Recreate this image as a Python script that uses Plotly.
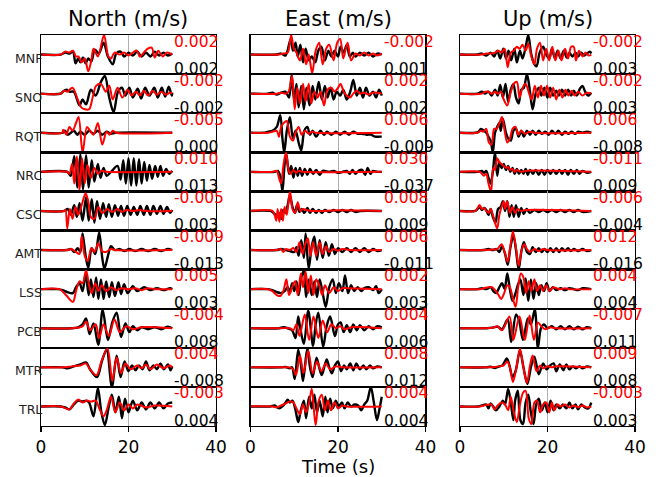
import plotly.graph_objects as go
from plotly.subplots import make_subplots

STATIONS = ["MNF", "SNO", "RQT", "NRC", "CSC", "AMT", "LSS", "PCB", "MTR", "TRL"]
COMPONENTS = ["North (m/s)", "East (m/s)", "Up (m/s)"]
X_TICKS = [0, 20, 40]

# ---- waveform keypoints (time s, normalised amplitude) ----
NORTH_OBS = {
    "MNF": [(0,0),(4.5,0),(5.5,0.1),(6.5,0.05),(7.3,0.15),(7.9,-0.45),(8.5,-0.2),(9,-0.4),(9.6,-0.15),(10.2,-0.45),(10.8,-0.2),(11.5,-0.35),(12.3,0.25),(13.2,0.05),(14.3,0.6),(15.3,-0.1),(16.4,-0.5),(17.2,0.05),(18.2,0.15),(19,-0.1),(20,0.1),(21,-0.05),(22,0.15),(23,-0.1),(24,0.1),(25,-0.1),(26,0.15),(27,-0.05),(28,0.1),(29,-0.05),(30,0.05)],
    "SNO": [(0,0),(4.5,0),(5,0.1),(5.8,0.2),(6.5,0.1),(7.5,0.1),(8.8,-0.6),(9.5,-0.3),(10.3,-0.55),(11.4,0.2),(12.5,-0.1),(13.7,0.6),(14.6,0.9),(15.6,-0.2),(16.6,-0.95),(17.6,0.1),(18.5,0.3),(19.3,-0.1),(20.2,0.3),(21,-0.2),(22.1,0.25),(22.9,-0.25),(23.8,0.3),(24.8,-0.1),(25.9,0.3),(26.7,-0.2),(27.6,0.3),(28.4,-0.15),(29.2,0.35),(29.9,-0.1),(30,0.05)],
    "RQT": [(0,0),(5,0),(5.5,0.1),(6.1,-0.1),(7.5,0.1),(8.3,-0.1),(9,0.05),(10,-0.1),(11,0.1),(12,-0.05),(13,0.1),(14,-0.1),(15,0.05),(16,-0.05),(17,0),(30,0)],
    "NRC": [(0,0),(6,0),(6.8,-0.2),(7.6,0.8),(8.3,-0.8),(9,0.9),(9.6,-0.9),(10.3,0.85),(10.9,-0.8),(11.6,0.6),(12.2,-0.5),(13,0.4),(13.6,-0.3),(14.3,0.2),(15,-0.2),(16,0),(17.5,0.3),(18.2,-0.4),(18.8,0.6),(19.4,-0.6),(20,0.7),(20.6,-0.7),(21.2,0.7),(21.8,-0.7),(22.4,0.65),(23,-0.6),(23.6,0.5),(24.2,-0.45),(24.8,0.35),(25.4,-0.35),(26.1,0.3),(26.7,-0.25),(27.3,0.3),(27.9,-0.2),(28.6,0.15),(29.3,-0.1),(30,0.05)],
    "CSC": [(0,0),(5.3,0),(6.1,0.1),(6.8,-0.2),(7.6,0.3),(8.2,-0.3),(8.8,0.4),(9.5,-0.5),(10.3,0.7),(10.9,-0.5),(11.6,0.6),(12.2,-0.6),(12.8,0.5),(13.5,-0.4),(14.2,0.4),(14.9,-0.3),(15.5,0.35),(16.2,-0.3),(16.9,0.3),(17.6,-0.25),(18.3,0.25),(19,-0.25),(19.7,0.25),(20.5,-0.2),(21.2,0.2),(22,-0.2),(22.7,0.25),(23.5,-0.2),(24.2,0.25),(25,-0.2),(25.7,0.25),(26.5,-0.15),(27.3,0.25),(28,-0.15),(28.8,0.2),(29.5,-0.1),(30,0.05)],
    "AMT": [(0,0),(6,0),(6.9,0.05),(7.6,-0.1),(8.4,0.1),(9,-0.1),(9.5,0.85),(10.2,-0.3),(10.8,-0.9),(11.6,0.1),(12.4,-0.2),(13.3,0.9),(14,-0.4),(14.5,-0.95),(15.3,-0.3),(16,0.2),(16.9,0),(18,0.05),(19,-0.05),(20.2,0.05),(21.5,-0.05),(23,0.05),(24.5,-0.05),(26,0.05),(27.5,-0.05),(29,0.05),(30,0)],
    "LSS": [(0,0),(3.8,0),(5,-0.05),(6,-0.15),(7.3,-0.2),(8,0.1),(8.8,0.3),(9.5,-0.1),(10.2,0.8),(10.9,-0.3),(11.4,0.5),(12,-0.4),(12.6,0.6),(13.1,-0.5),(13.7,0.5),(14.3,-0.5),(14.9,0.4),(15.6,-0.4),(16.2,0.35),(16.9,-0.35),(17.7,0.35),(18.3,-0.25),(19,0.25),(19.8,-0.2),(21,0.15),(22,-0.1),(23.6,0.1),(25,-0.05),(26.5,0.05),(28,-0.05),(29.5,0.05),(30,0)],
    "PCB": [(0,0),(7,0),(8.5,0.05),(9.5,0.2),(10.3,0.5),(11.1,-0.3),(12,0.25),(13.1,-0.85),(14.1,0.95),(15.3,-0.6),(16.3,0.3),(17.3,0.8),(18.3,-0.45),(19.3,0.25),(20.2,-0.2),(21,0.1),(22,-0.1),(23,0.05),(24.5,-0.05),(26,0.05),(27.5,-0.05),(29,0.08),(30,0)],
    "MTR": [(0,0),(5,0),(6,-0.05),(7.5,0.05),(9,0.15),(10.3,0.25),(11.2,-0.1),(12.8,-0.5),(13.9,0.3),(15,0.9),(16.2,-1.0),(17.3,0.6),(18.2,-0.5),(19.1,0.3),(20,-0.2),(20.8,0.1),(21.6,-0.15),(22.4,0.1),(23.2,-0.1),(24,0.3),(24.8,-0.15),(25.7,0.1),(26.5,-0.1),(27.3,0.2),(28.1,-0.1),(29,0.15),(29.6,-0.15),(30,0.05)],
    "TRL": [(0,0),(4.5,0),(5.5,-0.05),(6.5,-0.15),(7.5,0.1),(8.5,0.3),(9.5,0.25),(10.3,0.3),(11,0.2),(12,-0.5),(13,0.95),(13.8,-0.3),(14.6,-0.95),(15.5,0.0),(16.2,0.6),(17,-0.3),(17.8,0.5),(18.5,-0.6),(19.2,0.4),(20,-0.3),(21,0.3),(22,-0.2),(23,0.2),(24,-0.15),(25,0.2),(26,-0.1),(27,0.2),(28,-0.1),(29,0.15),(30,0.2)],
}
NORTH_SYN = {
    "MNF": [(0,0),(4.5,0),(5.5,0.15),(6.5,0.1),(7.3,0.2),(8,-0.1),(8.6,-0.1),(9.3,-0.4),(10,-0.2),(10.8,-0.85),(11.5,-0.3),(12,0.3),(13,-0.1),(14.4,1.0),(15.4,-0.1),(16,-0.2),(16.8,0.1),(18,0),(19,0.1),(20,-0.05),(21,0.1),(21.9,0.2),(22.6,-0.1),(23.5,0.1),(24.4,0.3),(25.3,0.35),(26,-0.15),(26.8,0.2),(27.8,-0.1),(28.8,0.1),(30,0)],
    "SNO": [(0,0),(4.5,0),(5.3,0.15),(6,0.1),(7.2,0.3),(8.4,-0.3),(9.2,-0.7),(10,-0.8),(11,-0.8),(11.8,-0.2),(12.6,0.4),(13.7,0.5),(14.8,0.1),(15.6,0.4),(16.4,-0.3),(17.5,0.3),(18.6,-0.2),(19.8,0.2),(20.7,-0.1),(21.7,0.1),(22.6,-0.1),(23.5,0.15),(24.5,-0.1),(25.5,0.15),(26.5,-0.05),(27.5,0.1),(28.5,-0.05),(29.5,0.05),(30,0)],
    "RQT": [(0,0),(4.8,0),(5.1,0.15),(5.8,-0.1),(6.5,0.3),(7.2,0.1),(8,0.5),(8.6,0.8),(9.5,-1.0),(10.5,0.3),(11.2,0.1),(12,-0.1),(13,0.5),(14,-0.6),(15,0.05),(15.7,-0.1),(16.4,0.1),(17.2,0),(30,0)],
    "NRC": [(0,0),(6,0),(6.5,-0.1),(7.1,0.4),(7.6,-0.6),(8.2,0.8),(8.8,-0.95),(9.4,0.7),(10,-0.6),(10.6,0.35),(11.4,-0.3),(12.2,0.2),(13,-0.1),(13.7,0.05),(15,0),(30,0)],
    "CSC": [(0,0),(5.3,0),(5.6,0.05),(6,-0.9),(6.6,0.1),(7.2,-0.4),(7.9,0.2),(8.5,-0.2),(9.3,0.3),(10.2,0.9),(10.8,0.5),(11.4,-0.3),(12.2,-0.4),(13.1,0.2),(14,-0.1),(15.2,0.1),(16.3,-0.05),(17.5,0.1),(18.5,-0.05),(19.5,0.05),(21,0),(22.5,0.05),(24,0),(30,0)],
    "AMT": [(0,0),(6,0),(6.9,0.05),(8,-0.1),(8.8,-0.2),(9.3,0.7),(10,-0.3),(10.7,-0.55),(11.5,0.1),(12.2,-0.1),(13.1,0.35),(13.9,-0.05),(14.8,-0.1),(16,0.05),(17,0),(30,0)],
    "LSS": [(0,0),(4.2,0),(5.7,-0.3),(7.3,-0.65),(8,-0.1),(8.8,0.4),(9.5,0.3),(10.3,0.95),(11,0.2),(11.6,-0.2),(12.4,0.3),(13.1,-0.1),(13.9,0.2),(14.9,-0.1),(16,0.1),(17.2,-0.05),(18.5,0.05),(20,0),(21.5,0.05),(23,-0.05),(24.5,0.05),(26,0),(30,0)],
    "PCB": [(0,0),(7,0),(9.5,0.1),(10.3,0.35),(11.2,-0.1),(12.5,0.2),(13.3,-0.5),(14.3,0.2),(15.5,-0.4),(16.8,0.45),(18,-0.2),(19.5,0.1),(21,-0.05),(23,0.05),(30,0)],
    "MTR": [(0,0),(5,0),(7,0.05),(9,0.1),(10.3,0.2),(11.2,-0.1),(12.7,-0.4),(13.8,0.3),(15.2,0.95),(16.3,-0.7),(17.3,0.5),(18.3,-0.3),(19.3,0.2),(20.5,-0.1),(22,0.1),(23,-0.05),(24,0.15),(25,-0.1),(26.5,0.15),(28,-0.05),(29.5,0.1),(30,0)],
    "TRL": [(0,0),(4.5,0),(6.5,-0.15),(7.5,0.15),(8.5,0.35),(9.5,0.2),(10.5,0.3),(11.5,0.25),(12.5,0.3),(13.5,-0.2),(14.3,-0.5),(15,-0.2),(16,0.5),(17,-0.3),(18,0.2),(19,-0.2),(20,0.1),(21,-0.1),(22,0.1),(24,-0.05),(26,0.05),(30,0)],
}
EAST_OBS = {
    "MNF": [(0,0),(6,0),(7,0.05),(8,-0.05),(9.2,0.8),(9.7,0.2),(10.3,0.6),(10.8,-0.1),(11.4,0.5),(12,-0.4),(12.6,0.3),(13.3,-0.3),(14,-0.1),(14.8,-0.4),(15.5,0.2),(16.2,0.4),(17,-0.3),(17.8,0.2),(18.5,-0.1),(19.2,0.2),(20,-0.1),(20.6,0.4),(21.3,0.1),(22,0.5),(22.7,-0.1),(23.4,0.1),(24,-0.1),(25,0.1),(26,-0.05),(27,0.1),(28,-0.1),(29,0.05),(30,0)],
    "SNO": [(0,0),(4,0),(5,0.05),(6,-0.05),(7,0.05),(8,0.1),(8.8,-0.2),(9.4,0.95),(10,-0.4),(10.5,0.5),(11,-0.7),(11.6,0.4),(12.2,-0.8),(12.8,0.3),(13.5,-0.6),(14.2,0.4),(14.8,-0.3),(15.6,0.6),(16.3,-0.3),(17,0.4),(17.6,-0.2),(18.3,0.3),(19,-0.3),(19.7,0.1),(20.5,-0.1),(21.2,0.2),(22,-0.3),(22.8,0.1),(23.5,0.7),(24.3,-0.1),(25,0.3),(25.7,-0.2),(26.4,0.3),(27.2,-0.1),(28,0.1),(28.7,-0.2),(29.4,0.2),(30,-0.1)],
    "RQT": [(0,0),(3,0),(4,0.05),(5,0.1),(6,0.3),(6.8,0.9),(7.3,-0.3),(7.7,-1.0),(8.3,0.1),(9,0.8),(9.7,-0.3),(10.3,0.1),(11,-0.5),(11.6,-0.9),(12.3,0.1),(13,0.3),(13.6,-0.1),(14.2,0.1),(15,-0.2),(16,0.1),(16.8,-0.1),(17.5,0.05),(18.5,-0.1),(19.5,0.05),(20.5,-0.1),(21.5,0.05),(22.5,-0.1),(23.5,0.05),(24.5,-0.05),(25.5,-0.05),(26.5,-0.1),(27.5,-0.1),(28.5,-0.2),(29.5,-0.2),(30,-0.2)],
    "NRC": [(0,0),(5.5,0),(6.2,0.05),(6.8,-0.2),(7.3,-1.0),(7.8,0.4),(8.2,0.9),(8.8,-0.1),(9.3,0.3),(9.8,-0.3),(10.3,0.2),(10.8,-0.2),(11.3,0.2),(11.8,-0.2),(12.4,0.15),(13,-0.15),(13.6,0.15),(14.3,-0.1),(15,0.1),(15.8,-0.15),(16.5,0.05),(18,0),(19,0.05),(20,-0.05),(21,0),(22,0.05),(22.7,-0.1),(23.3,0.1),(24,-0.1),(24.7,0.05),(25.5,0.1),(26.2,-0.15),(26.8,0.2),(27.4,-0.1),(28,0.05),(29,0),(30,0)],
    "CSC": [(0,0),(4.5,0),(5,-0.05),(5.5,-0.15),(6,-0.3),(6.5,-0.1),(7,-0.4),(7.5,0.05),(8,-0.1),(8.5,0.3),(9,0.8),(9.6,0.2),(10.2,-0.1),(10.6,0.3),(11.2,-0.05),(11.7,0.1),(12.3,-0.1),(13,0.15),(13.6,-0.1),(14.2,0.1),(15,-0.1),(15.6,0.05),(16.3,-0.1),(17,0.05),(18,-0.05),(19,0.05),(20,-0.05),(21,0.05),(22,-0.05),(23,0.05),(24,-0.05),(25,0),(30,0)],
    "AMT": [(0,0),(6,0),(7,0.05),(8,0),(9,-0.05),(10,-0.1),(10.5,0.15),(11,-0.3),(11.6,0.5),(12.2,-0.4),(12.6,0.85),(13.3,-0.95),(14,0.2),(14.6,0.7),(15.2,-0.5),(15.8,0.5),(16.5,-0.4),(17.2,0.4),(17.9,-0.3),(18.6,0.3),(19.3,-0.2),(20,0.1),(21,-0.1),(22,0.1),(23,-0.1),(24,0.1),(25,-0.1),(26,0.1),(27,-0.1),(28,0.05),(29,-0.05),(30,0)],
    "LSS": [(0,0),(4,0),(5,-0.05),(6,-0.15),(7,-0.2),(7.8,-0.1),(8.5,0.1),(9,-0.2),(9.5,0.3),(10,-0.1),(10.5,0.4),(11,-0.3),(11.6,0.6),(12.2,0.95),(12.7,-0.4),(13.3,0.5),(14,-0.3),(14.6,0.4),(15.2,-0.4),(15.8,0.5),(16.5,-0.2),(17.2,-0.9),(18,0.1),(18.8,0.5),(19.5,-0.2),(20.2,0.3),(21,-0.1),(21.6,0.7),(22.3,-0.2),(23,0.2),(23.7,-0.1),(24.5,0.1),(25.3,-0.1),(26,0.05),(27,0.1),(28,-0.05),(28.7,0.15),(29.3,-0.2),(30,0)],
    "PCB": [(0,0),(6.5,0),(7.5,0.05),(8.5,0),(9.5,-0.1),(10.3,-0.5),(10.9,0.6),(11.3,0.1),(12.2,-0.8),(13.2,0.9),(14.3,-0.9),(14.9,0.2),(15.5,0.8),(16.6,-0.95),(17.4,0.1),(18.2,0.6),(19.3,-0.4),(20,0.2),(20.6,0.3),(21.3,-0.2),(22,0.15),(22.8,-0.2),(23.5,0.2),(24.3,-0.1),(25,0.15),(26,-0.1),(27,0.1),(28,-0.05),(29,0.1),(30,0.05)],
    "MTR": [(0,0),(7,0),(8,0.02),(9,-0.05),(9.5,0),(10.1,-0.6),(10.9,0.9),(11.5,0.2),(12,-0.7),(13,1.0),(13.6,0.0),(14.2,-0.5),(15.1,0.5),(15.7,0.0),(16.3,-0.4),(17.4,0.4),(18,0),(18.6,-0.3),(19.3,0.1),(20,0.3),(20.7,-0.2),(21.4,0.1),(22,-0.1),(22.8,0.2),(23.5,-0.15),(24.2,0.2),(25,-0.1),(25.8,0.1),(26.5,-0.1),(27.3,0.1),(28,-0.05),(29,0.05),(30,0)],
    "TRL": [(0,0),(4.5,0),(5.5,0.05),(6.5,-0.1),(7.3,0),(8,0.2),(8.5,0.35),(9,0.2),(9.6,0.3),(10.3,-0.2),(10.9,-0.8),(11.5,-0.2),(12.2,0.3),(12.7,-0.6),(13.4,0.5),(14,-0.1),(14.6,0.6),(15.2,-0.3),(15.8,0.3),(16.5,-0.5),(17.1,0.5),(17.6,-0.3),(18.2,0.4),(18.8,-0.1),(19.5,0.3),(20.2,0.0),(20.9,0.2),(21.5,-0.1),(22.2,0.2),(23,0.0),(23.8,0.1),(24.6,0.05),(25.3,-0.2),(26,0.1),(26.7,0.3),(27.5,1.0),(28.2,0.2),(28.9,-0.7),(29.5,-0.1),(30,0.5)],
}
EAST_SYN = {
    "MNF": [(0,0),(6.5,0),(7.5,0.05),(8.5,0.1),(9.3,1.0),(9.9,0.3),(10.5,0.1),(11.3,-0.3),(12,0.3),(12.7,-0.5),(13.3,0.0),(14.1,-0.95),(14.9,0.2),(15.7,0.6),(16.5,-0.5),(17.3,0.3),(18,0.5),(19,-0.3),(19.8,0.6),(20.5,0.8),(21.2,-0.2),(22.2,0.6),(23,-0.3),(24,0.05),(25,-0.05),(26,0.1),(27,-0.05),(28,0.05),(29,-0.05),(30,0.05)],
    "SNO": [(0,0),(6,0),(7,0.05),(8,0),(8.7,0.1),(9.5,0.9),(10.1,-0.8),(10.7,0.3),(11.3,-0.5),(12,0.5),(12.6,-0.4),(13.3,0.5),(13.9,-0.5),(14.6,0.1),(15.3,-0.2),(16,0.1),(16.8,-0.6),(17.6,0.2),(18.5,0.3),(19.2,0.1),(20,0.3),(20.6,0.5),(21.3,0.1),(22,-0.1),(22.7,-0.2),(23.5,0.0),(24.3,0.15),(25,0),(26,0.05),(27,-0.05),(28,0.05),(30,0)],
    "RQT": [(0,0),(4,0),(5,0.05),(6,0.1),(6.5,-0.2),(7,0.3),(7.6,0.5),(8.3,0.6),(9,-0.2),(9.7,-0.4),(10.3,0.0),(11,0.3),(11.7,-0.1),(12.5,0.1),(13.3,-0.05),(14,0.05),(15,0),(30,0)],
    "NRC": [(0,0),(5,0),(6,0.05),(6.5,-0.3),(7,-0.6),(7.5,0.3),(8.1,1.0),(8.7,0.1),(9.2,-0.1),(9.8,0.1),(10.5,-0.05),(11,0.05),(12,0),(30,0)],
    "CSC": [(0,0),(5,0),(5.5,-0.2),(5.9,-0.5),(6.2,0.1),(6.6,-0.55),(7,0.1),(7.4,-0.5),(7.8,0.2),(8.3,-0.2),(9,1.0),(9.6,0.1),(10.2,-0.1),(10.8,0.45),(11.4,0),(12,0.1),(12.8,0.05),(14,0.0),(16,0.0),(20,0.03),(30,0)],
    "AMT": [(0,0),(6,0),(7,0.05),(7.5,-0.1),(8,0.05),(9,0),(9.8,0.1),(10.5,-0.1),(11.2,0.4),(11.9,-0.2),(12.5,0.3),(13.1,0.6),(13.7,-0.3),(14.3,0.4),(15,-0.3),(15.8,0.4),(16.5,-0.2),(17.3,0.2),(18,-0.1),(19,0.05),(20,-0.03),(21,0.05),(23,0),(30,0)],
    "LSS": [(0,0),(4,0),(5,-0.1),(6,-0.3),(6.8,-0.35),(7.5,-0.1),(8.2,0.5),(8.8,-0.3),(9.5,0.1),(10.2,0.4),(10.8,-0.3),(11.5,0.8),(12,0.1),(12.6,0.9),(13.2,-0.2),(13.8,0.7),(14.4,-0.3),(15,0.5),(15.7,0.2),(16.4,-0.3),(17,0.2),(18,-0.2),(19,0.1),(20,-0.1),(21,0.05),(22,0.05),(30,0)],
    "PCB": [(0,0),(7,0),(9,0),(9.8,-0.1),(10.5,0.2),(11.2,-0.4),(12.4,0.7),(13.4,-0.6),(14.4,0.6),(15.5,-0.5),(16.5,0.4),(17.5,-0.2),(18.5,0.2),(19.5,0.0),(20.5,0.1),(21.5,-0.05),(23,0.05),(30,0)],
    "MTR": [(0,0),(7,0),(9,0),(9.8,-0.1),(10.4,-0.4),(11.3,0.6),(12.1,-0.3),(13.2,0.85),(14.2,-0.3),(15.2,0.3),(16.2,-0.2),(17.2,0.2),(18.2,-0.1),(19.5,0.05),(21,0),(30,0)],
    "TRL": [(0,0),(5,0),(6,-0.05),(7,0.05),(8,0.15),(9,0.25),(9.8,0.2),(10.5,-0.1),(11.3,-0.4),(12,0.1),(12.7,-0.3),(13.4,0.2),(14,0.9),(14.5,-0.2),(14.9,-0.95),(15.6,0.3),(16.3,0.6),(17,-0.2),(17.7,0.3),(18.4,-0.2),(19.2,0.2),(20,-0.1),(21,0.05),(22,0),(30,0)],
}
UP_OBS = {
    "MNF": [(0,0),(4,0),(5,0.05),(6,-0.05),(7,0.1),(7.8,-0.1),(8.5,0.2),(9.2,-0.2),(9.9,0.3),(10.5,-0.2),(11.1,0.2),(11.7,-0.3),(12.4,0.3),(13,-0.4),(13.7,0.2),(14.3,-0.2),(15.1,0.5),(15.6,1.0),(16.3,0.0),(17,-0.5),(17.5,-0.6),(18.2,0.1),(19,0.4),(19.7,0.0),(20.4,-0.2),(21,0.3),(21.7,-0.2),(22.3,0.2),(23,-0.2),(23.7,0.2),(24.4,-0.15),(25,0.1),(25.7,-0.1),(26.4,0.1),(27,-0.1),(27.7,0.1),(28.4,-0.05),(29,0.05),(29.7,0.15),(30,0.05)],
    "SNO": [(0,0),(4,0),(5,0.1),(5.7,0.0),(6.5,0.1),(7.2,-0.1),(8,0.2),(8.6,-0.1),(9.2,0.45),(9.8,-0.2),(10.4,0.5),(11,-0.4),(11.6,0.2),(12.2,0.5),(12.8,-0.2),(13.4,-0.5),(14,0.2),(14.6,0.3),(15.3,1.0),(16,0.1),(16.6,-0.8),(17.3,0.0),(18,0.3),(18.6,-0.1),(19.3,0.3),(20,-0.2),(20.6,0.3),(21.3,-0.1),(22,0.15),(22.6,-0.1),(23.3,0.2),(24,-0.1),(24.7,0.2),(25.4,-0.1),(26,0.15),(26.7,-0.1),(27.4,0.25),(28,0.4),(28.6,0.1),(29.3,-0.1),(30,0.05)],
    "RQT": [(0,0),(3.5,0),(4.2,0.05),(4.8,0.2),(5.5,0.1),(6,0.0),(6.5,-0.2),(7,-0.4),(7.5,-1.0),(8,0.0),(8.5,0.3),(9,0.5),(9.3,0.1),(9.8,0.7),(10.5,0.0),(11,-0.3),(11.6,-0.4),(12.2,0.1),(12.8,0.2),(13.4,-0.2),(14,0.1),(14.6,-0.2),(15.3,0.1),(16,-0.1),(16.6,0.1),(17.3,-0.1),(18,0.1),(18.7,-0.05),(19.5,0.05),(20.3,-0.1),(21,0.1),(21.8,-0.05),(22.5,0.1),(23.3,-0.1),(24,0.05),(24.8,-0.05),(25.5,0.05),(26.3,-0.05),(27,0.05),(28,0),(29,0.05),(30,0)],
    "NRC": [(0,0),(4,0),(5,0.05),(5.5,-0.05),(6,0.05),(6.5,-0.3),(7,-0.6),(7.5,0.0),(8,1.0),(8.5,-0.2),(9,0.5),(9.5,0.2),(10,0.4),(10.5,0.1),(11,0.3),(11.5,0.0),(12,0.2),(12.5,-0.1),(13,0.15),(13.5,-0.1),(14,0.1),(14.5,-0.1),(15,0.15),(15.5,-0.15),(16,0.1),(16.7,-0.1),(17.3,0.1),(18,-0.15),(18.7,0.1),(19.3,-0.15),(20,0.1),(20.7,-0.1),(21.3,0.1),(22,-0.1),(22.7,0.1),(23.3,-0.1),(24,0.1),(24.7,-0.15),(25.3,0.1),(26,-0.1),(26.7,0.1),(27.3,-0.1),(28,0.05),(29,-0.05),(30,0)],
    "CSC": [(0,0),(3.5,0),(4,0.1),(4.5,0.2),(5,0.05),(5.5,0.15),(6,0.05),(6.5,-0.2),(7,0.1),(7.5,-0.3),(8.1,-0.6),(8.7,0.1),(9.3,0.2),(9.8,0.5),(10.3,0.0),(10.8,0.5),(11.3,-0.3),(11.8,0.3),(12.3,-0.3),(12.8,0.3),(13.4,-0.3),(14,0.15),(14.6,-0.15),(15.2,0.1),(16,-0.1),(17,0.05),(18,-0.05),(19,0.05),(20,-0.05),(21,0.05),(22,-0.05),(23,0.05),(24,-0.05),(25,0.05),(26,-0.05),(27,0.05),(28,-0.05),(30,0)],
    "AMT": [(0,0),(5.5,0),(6.5,0.05),(7.5,0),(8.3,0.05),(9,-0.1),(9.6,0.2),(10.3,-0.2),(10.9,-0.75),(11.5,0.1),(12.2,0.75),(12.8,0.0),(13.4,-1.0),(14,-0.1),(14.6,0.4),(15.3,-0.1),(16,-0.2),(16.6,0.15),(17.3,-0.1),(18,0.1),(18.7,-0.1),(19.3,0.05),(20,-0.1),(20.7,0.1),(21.3,-0.1),(22,0.1),(22.7,-0.1),(23.3,0.1),(24,-0.05),(24.7,0.1),(25.3,-0.05),(26,0.05),(27,-0.05),(28,0.05),(29,-0.05),(30,0)],
    "LSS": [(0,0),(4,0),(5,0.05),(6,0.0),(7,0.1),(7.6,-0.1),(8.3,-0.2),(9,0.1),(9.6,0.3),(10.2,0.0),(10.8,0.8),(11.4,0.0),(12,-0.6),(12.7,-0.2),(13.2,0.2),(13.8,0.5),(14.5,-0.3),(15,0.55),(15.6,-0.6),(16.2,0.5),(16.8,-0.5),(17.4,0.3),(18,-0.3),(18.6,0.2),(19.2,-0.1),(19.8,0.3),(20.5,-0.1),(21.2,0.1),(22,-0.05),(23,0.05),(24,-0.05),(25,0.05),(26,0),(27,-0.05),(28,0.05),(30,0)],
    "PCB": [(0,0),(6,0),(7.5,0.03),(8.6,0.08),(9.6,-0.05),(10.9,0.45),(11.7,-0.7),(12.8,0.7),(13.5,0.4),(14.4,-0.6),(15.5,0.5),(16.2,0.2),(17.1,0.95),(17.8,-1.0),(18.5,0.0),(19.2,0.2),(20,0),(21,0.1),(22,-0.05),(23,0.1),(24,-0.05),(25,0.1),(26,-0.05),(27,0.08),(28,-0.05),(29,0.05),(30,0)],
    "MTR": [(0,0),(6,0),(7,0.03),(8,-0.03),(9,0.05),(9.7,0.1),(10.7,0.45),(11.3,0.1),(12,-0.5),(12.7,-0.2),(13.7,0.85),(14.5,0.0),(15.4,-0.85),(16.2,0.0),(17,0.55),(18,-0.35),(19,0.2),(19.8,-0.1),(20.6,0.1),(21.4,0.2),(22,-0.2),(22.8,0.15),(23.6,-0.15),(24.3,0.15),(25,-0.1),(25.8,0.05),(26.5,-0.05),(27.3,0.05),(28,-0.05),(29,0.05),(30,0)],
    "TRL": [(0,0),(4,0),(5,0.05),(6,0.1),(6.5,-0.1),(7,0.15),(7.6,0.0),(8.2,-0.2),(9,0.0),(9.8,0.3),(10.3,0.1),(11,0.9),(11.6,0.2),(12.2,-0.7),(12.6,0.3),(13.2,0.8),(13.8,-0.7),(14.4,-0.9),(15,0.2),(15.6,0.6),(16.2,-0.3),(16.8,-0.9),(17.4,0.1),(18,0.4),(18.7,-0.2),(19.4,0.2),(20,-0.3),(20.7,0.3),(21.4,-0.2),(22,0.1),(22.8,-0.1),(23.5,0.1),(24.3,-0.1),(25,0.2),(25.7,-0.1),(26.4,0.1),(27,-0.15),(27.7,0.1),(28.5,-0.05),(29.3,-0.1),(30,0.2)],
}
UP_SYN = {
    "MNF": [(0,0),(5,0),(6,0.05),(7,0.05),(8,0.1),(8.8,0.2),(9.5,0.1),(10.2,0.3),(10.9,-0.65),(11.6,0.1),(12.3,0.2),(13,0.4),(13.6,0.3),(14.3,0.5),(15,0.2),(15.6,0.55),(16.3,-0.1),(17,-0.5),(17.6,0.3),(18.3,0.6),(19,-0.3),(19.7,0.3),(20.4,-0.3),(21.1,0.4),(21.8,-0.3),(22.5,0.2),(23.2,-0.3),(24,0.3),(24.7,-0.2),(25.4,0.4),(26,0.4),(26.5,-0.3),(27.2,0.2),(28,-0.1),(28.7,0.1),(29.4,-0.05),(30,0)],
    "SNO": [(0,0),(5,0),(5.8,0.1),(6.5,0.1),(7.3,0.0),(8,0.1),(8.7,0.0),(9.4,0.1),(10,-0.3),(10.8,-0.6),(11.5,0.0),(12.3,0.5),(13,0.6),(13.6,-0.2),(14.3,0.3),(15,0.5),(15.8,0.0),(16.4,-0.3),(17.1,0.4),(17.8,-0.2),(18.5,0.4),(19.2,-0.1),(19.9,0.4),(20.6,-0.2),(21.3,0.3),(22,-0.3),(22.7,0.2),(23.4,-0.2),(24.1,0.2),(24.8,-0.1),(25.5,0.15),(26.2,-0.1),(27,0.1),(28,-0.1),(29,0.05),(30,0)],
    "RQT": [(0,0),(4,0),(4.8,0.1),(5.3,0.05),(6,0.2),(6.6,-0.5),(7.2,-0.6),(7.8,0.2),(8.4,0.2),(9,0.5),(9.6,0.8),(10.2,0.1),(10.8,-0.5),(11.4,-0.3),(12,0.2),(12.7,0.3),(13.3,-0.1),(14,0.1),(14.8,-0.05),(16,0.05),(17,0),(30,0)],
    "NRC": [(0,0),(4.5,0),(5,-0.1),(5.5,-0.2),(6,-0.1),(6.5,-0.6),(7.1,-1.0),(7.6,0.2),(8,0.1),(8.5,0.7),(9,0.5),(9.5,0.4),(10,0.3),(10.5,0.2),(11,0.25),(11.5,0.1),(12,0.15),(12.5,0.0),(13,0.1),(14,0),(15,0.05),(30,0)],
    "CSC": [(0,0),(3.5,0),(4,0.15),(4.5,0.3),(5,0.1),(5.5,0.15),(6,0.0),(6.5,-0.1),(7,0.1),(7.5,-0.2),(8,-0.6),(8.5,-0.9),(9,-0.2),(9.5,0.2),(10,0.5),(10.3,0.1),(10.8,0.5),(11.4,-0.1),(12,0.2),(12.6,-0.1),(13.2,0.1),(14,0.0),(15,0.05),(30,0)],
    "AMT": [(0,0),(6,0),(7,0.02),(8.5,0.05),(9.5,0.3),(10.2,-0.1),(10.9,-0.6),(11.5,0.2),(12.1,0.95),(12.8,0.1),(13.4,-0.8),(14.1,0.0),(14.7,0.3),(15.3,0.05),(16,-0.1),(17,0.05),(18,-0.05),(19,0.05),(20,0),(30,0)],
    "LSS": [(0,0),(4.5,0),(5.5,0.05),(6.5,0.1),(7.3,0.1),(8.2,-0.1),(8.8,-0.3),(9.4,-0.5),(10.1,-0.2),(10.8,0.2),(11.4,0.1),(12,-0.4),(12.7,-0.9),(13.3,0.1),(13.9,0.8),(14.5,0.6),(15.1,-0.2),(15.7,0.4),(16.3,-0.1),(17,0.5),(17.6,-0.1),(18.3,0.2),(19,-0.1),(19.7,0.2),(20.5,-0.1),(21.3,0.1),(22,0.05),(23,0.0),(24,0.05),(25,0),(30,0)],
    "PCB": [(0,0),(6,0),(7.5,0.03),(8.6,0.1),(9.6,-0.1),(11.3,0.6),(12.2,-0.6),(13.6,0.6),(14.8,-0.6),(15.9,0.65),(16.9,-0.6),(17.8,0.3),(18.6,0.1),(19.5,-0.05),(20.5,0.05),(22,0),(30,0)],
    "MTR": [(0,0),(6,0),(8,0.02),(9,0.05),(10,0.1),(10.8,0.3),(11.4,0.0),(12.1,-0.75),(12.9,0.0),(13.7,0.95),(14.5,0.0),(15.3,-0.8),(16,0.1),(16.6,0.6),(17.5,-0.2),(18.3,0.1),(19,-0.05),(20,0.05),(21,0),(22,0.05),(30,0)],
    "TRL": [(0,0),(4.5,0),(5.5,0.05),(6.5,0.1),(7.2,0.1),(7.9,-0.15),(8.6,0.05),(9.5,0.2),(10.3,0.1),(11,-0.2),(11.6,0.5),(12.3,-0.3),(13,-0.8),(13.7,0.1),(14.4,0.7),(15,0.8),(15.7,-0.6),(16.3,-0.9),(17,0.2),(17.6,0.3),(18.3,-0.3),(19,0.1),(19.7,0.2),(20.4,-0.3),(21,0.2),(21.6,-0.2),(22.3,0.1),(23,0.0),(24,0.1),(25,-0.05),(26,0.05),(27,-0.05),(28,0.05),(29,-0.05),(30,0)],
}

# ---- peak amplitude labels (red: synthetic, black: observed) ----
NORTH_RED = ["0.002", "-0.002", "-0.005", "0.010", "-0.005", "-0.009", "0.005", "-0.004", "0.004", "-0.003"]
NORTH_BLACK = ["0.002", "-0.002", "0.000", "0.013", "0.003", "-0.013", "0.003", "0.008", "-0.008", "0.004"]
EAST_RED = ["-0.002", "0.002", "0.006", "0.030", "0.008", "0.006", "0.002", "0.004", "0.008", "0.004"]
EAST_BLACK = ["0.001", "0.002", "-0.009", "-0.037", "0.009", "-0.011", "0.003", "0.006", "0.012", "0.004"]
UP_RED = ["-0.002", "-0.002", "0.006", "-0.011", "-0.006", "0.012", "0.004", "-0.007", "0.009", "-0.003"]
UP_BLACK = ["0.003", "0.003", "-0.008", "0.009", "-0.004", "-0.016", "0.004", "0.011", "0.008", "0.003"]
LABEL_TIME = 30

columns = [
    (NORTH_OBS, NORTH_SYN, NORTH_RED, NORTH_BLACK),
    (EAST_OBS, EAST_SYN, EAST_RED, EAST_BLACK),
    (UP_OBS, UP_SYN, UP_RED, UP_BLACK),
]

NROW = len(STATIONS)
ROW_PX = 391 / NROW

fig = make_subplots(rows=NROW, cols=3, horizontal_spacing=0.0581, vertical_spacing=0)

annotations = []
for c, (obs, syn, red_lab, blk_lab) in enumerate(columns):
    for r, st in enumerate(STATIONS):
        t_o, v_o = zip(*obs[st])
        t_s, v_s = zip(*syn[st])
        fig.add_trace(go.Scatter(x=t_o, y=v_o, mode="lines",
                                 line=dict(color="black", width=2.4, shape="spline", smoothing=0.9),
                                 showlegend=False, hoverinfo="skip"), row=r + 1, col=c + 1)
        fig.add_trace(go.Scatter(x=t_s, y=v_s, mode="lines",
                                 line=dict(color="#ff0000", width=2.0, shape="spline", smoothing=0.9),
                                 showlegend=False, hoverinfo="skip"), row=r + 1, col=c + 1)
        idx = r * 3 + c + 1
        sfx = "" if idx == 1 else str(idx)
        annotations.append(dict(x=LABEL_TIME, xref="x" + sfx, xanchor="left",
                                y=1 - 6.5 / ROW_PX, yref="y" + sfx + " domain", yanchor="middle",
                                text=red_lab[r], showarrow=False,
                                font=dict(size=15.5, color="#ff0000")))
        annotations.append(dict(x=LABEL_TIME, xref="x" + sfx, xanchor="left",
                                y=5.5 / ROW_PX, yref="y" + sfx + " domain", yanchor="middle",
                                text=blk_lab[r], showarrow=False,
                                font=dict(size=15.5, color="black")))
        if c == 0:
            annotations.append(dict(x=0.015, xref="x" + sfx + " domain", xanchor="right",
                                    y=0.5 - 3.5 / ROW_PX, yref="y" + sfx + " domain", yanchor="middle",
                                    text=st, showarrow=False,
                                    font=dict(size=12.5, color="#222222")))

# column titles
for c, title in enumerate(COMPONENTS):
    xa = fig.layout["xaxis" + ("" if c == 0 else str(c + 1))]
    d0, d1 = xa.domain
    annotations.append(dict(x=(d0 + d1) / 2, xref="paper", xanchor="center",
                            y=1 + 16 / 391, yref="paper", yanchor="middle",
                            text=title, showarrow=False, font=dict(size=21, color="black")))

xa2 = fig.layout["xaxis2"]
annotations.append(dict(x=(xa2.domain[0] + xa2.domain[1]) / 2, xref="paper", xanchor="center",
                        y=-40 / 391, yref="paper", yanchor="middle",
                        text="Time (s)", showarrow=False, font=dict(size=18, color="black")))

fig.update_xaxes(range=[0, 40], tickvals=X_TICKS, showgrid=True, gridcolor="#b0b0b0", gridwidth=1,
                 showline=True, linecolor="black", linewidth=1.2, mirror=True,
                 showticklabels=False, ticks="", zeroline=False)
fig.update_xaxes(showticklabels=True, ticks="outside", ticklen=5, tickwidth=1.2, tickcolor="black",
                 tickfont=dict(size=17, color="black"), row=NROW)
fig.update_yaxes(range=[-1, 1], showticklabels=False, ticks="", showgrid=False, zeroline=False,
                 showline=True, linecolor="black", linewidth=1.2, mirror=True)

fig.update_layout(width=659, height=477, margin=dict(l=41, r=24, t=35, b=51),
                  paper_bgcolor="white", plot_bgcolor="white",
                  font=dict(family="DejaVu Sans", color="black"),
                  annotations=annotations, showlegend=False)

fig.write_html("out.html", config={"displayModeBar": False, "staticPlot": True},
               post_script="document.body.style.margin='0';document.body.style.padding='0';")
